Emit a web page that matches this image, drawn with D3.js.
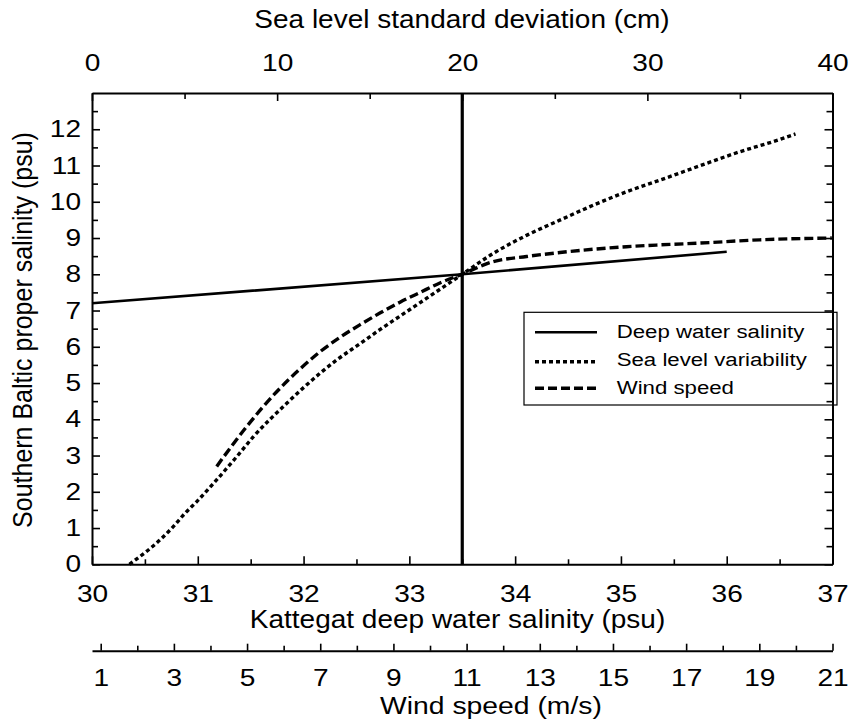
<!DOCTYPE html>
<html>
<head>
<meta charset="utf-8">
<script src="https://cdn.jsdelivr.net/npm/d3@7"></script>
<style>
  html, body { margin: 0; padding: 0; background: #fff; }
  svg { display: block; }
  text { font-family: "Liberation Sans", Arial, Helvetica, sans-serif; fill: #000; }
</style>
</head>
<body>
<svg id="chart" width="851" height="727"></svg>
<script>
// ---- data ----
const salinityTicks = [30, 31, 32, 33, 34, 35, 36, 37];
const salinityMinor = [30.5, 31.5, 32.5, 33.5, 34.5, 35.5, 36.5];
const cmTicks = [0, 10, 20, 30, 40];
const cmMinor = [5, 15, 25, 35];
const windTicks = [1, 3, 5, 7, 9, 11, 13, 15, 17, 19, 21];
const windMinor = [2, 4, 6, 8, 10, 12, 14, 16, 18, 20];
const yTicks = [0, 1, 2, 3, 4, 5, 6, 7, 8, 9, 10, 11, 12];
const yMinor = [0.5, 1.5, 2.5, 3.5, 4.5, 5.5, 6.5, 7.5, 8.5, 9.5, 10.5, 11.5, 12.5];

// Deep water salinity (x: Kattegat deep water salinity, psu)
const deepX = [30, 33.5, 36.0];
const deepY = [7.2, 8.0, 8.62];
// Sea level variability (x: sea level standard deviation, cm)
const seaX = [2.02, 3.77, 4.39, 5.03, 5.66, 6.56, 7.82, 8.72, 10.52, 12.32, 13.23, 14.49, 15.57, 16.65, 17.73, 18.81, 20.0, 21.69, 23.5, 25.3, 27.1, 28.9, 30.7, 33.2, 35.0, 36.8, 38.0];
const seaY = [0.0, 0.72, 1.04, 1.41, 1.73, 2.23, 2.97, 3.52, 4.44, 5.27, 5.64, 6.09, 6.48, 6.85, 7.22, 7.59, 8.0, 8.58, 9.08, 9.5, 9.91, 10.28, 10.6, 11.06, 11.38, 11.66, 11.87];
// Wind speed (x: wind speed, m/s)
const windX = [4.17, 4.99, 5.81, 6.45, 6.99, 7.54, 8.09, 8.63, 9.18, 9.73, 10.27, 10.87, 11.73, 12.64, 13.55, 14.46, 15.37, 16.28, 17.37, 19.01, 20.98];
const windY = [2.70, 3.80, 4.76, 5.39, 5.86, 6.26, 6.61, 6.93, 7.23, 7.50, 7.76, 8.0, 8.35, 8.49, 8.60, 8.69, 8.76, 8.81, 8.86, 8.95, 9.0];

const referenceSalinity = 33.5;
const seriesNames = ["Deep water salinity", "Sea level variability", "Wind speed"];

// ---- layout ----
const L = 92, R = 832.5, T = 93, B = 564.3, WIND_Y = 650.7;
const SX = 1.17;   // horizontal text stretch (tick labels, legend)
const TSX = 1.12;  // horizontal stretch for titles
const svg = d3.select("#chart");

const x = d3.scaleLinear().domain([30, 37]).range([L, R]);
const xCm = d3.scaleLinear().domain([0, 40]).range([L, R]);
const xWind = d3.scaleLinear().domain([0.7622, 21]).range([L, R]);
const y = d3.scaleLinear().domain([0, 13]).range([B, T]);

function styleAxis(g, domainWidth) {
  g.selectAll(".domain").attr("stroke", "#000").attr("stroke-width", domainWidth);
  g.selectAll(".tick line").attr("stroke", "#000").attr("stroke-width", 1.6);
  g.selectAll(".tick text").attr("font-size", 24).attr("fill", "#000")
    .attr("font-family", "Liberation Sans, Arial, sans-serif");
}

// bottom salinity axis
const gB = svg.append("g").attr("transform", `translate(0,${B})`)
  .call(d3.axisBottom(x).tickValues(salinityTicks).tickFormat(d3.format("d"))
    .tickSizeInner(-8).tickSizeOuter(0).tickPadding(21));
styleAxis(gB, 2);
gB.selectAll(".tick text").attr("transform", `scale(${SX},1)`);
svg.append("g").attr("transform", `translate(0,${B})`)
  .call(d3.axisBottom(x).tickValues(salinityMinor).tickFormat("").tickSizeInner(-5).tickSizeOuter(0))
  .call(g => { g.select(".domain").remove(); styleAxis(g, 2); });

// top cm axis
const gT = svg.append("g").attr("transform", `translate(0,${T})`)
  .call(d3.axisTop(xCm).tickValues(cmTicks).tickFormat(d3.format("d"))
    .tickSizeInner(-8).tickSizeOuter(0).tickPadding(22));
styleAxis(gT, 2);
gT.selectAll(".tick text").attr("transform", `scale(${SX},1)`);
svg.append("g").attr("transform", `translate(0,${T})`)
  .call(d3.axisTop(xCm).tickValues(cmMinor).tickFormat("").tickSizeInner(-6).tickSizeOuter(0))
  .call(g => { g.select(".domain").remove(); styleAxis(g, 2); });

// left y axis
const gL = svg.append("g").attr("transform", `translate(${L},0)`)
  .call(d3.axisLeft(y).tickValues(yTicks).tickFormat(d3.format("d"))
    .tickSizeInner(-8).tickSizeOuter(0).tickPadding(11 / SX));
styleAxis(gL, 2);
gL.selectAll(".tick text").attr("transform", `scale(${SX},1)`);
svg.append("g").attr("transform", `translate(${L},0)`)
  .call(d3.axisLeft(y).tickValues(yMinor).tickFormat("").tickSizeInner(-6).tickSizeOuter(0))
  .call(g => { g.select(".domain").remove(); styleAxis(g, 2); });

// right y axis
const gR = svg.append("g").attr("transform", `translate(${R},0)`)
  .call(d3.axisRight(y).tickValues(yTicks).tickFormat("").tickSizeInner(-8).tickSizeOuter(0));
styleAxis(gR, 2);
svg.append("g").attr("transform", `translate(${R},0)`)
  .call(d3.axisRight(y).tickValues(yMinor).tickFormat("").tickSizeInner(-6).tickSizeOuter(0))
  .call(g => { g.select(".domain").remove(); styleAxis(g, 2); });

// wind axis
const gW = svg.append("g").attr("transform", `translate(0,${WIND_Y})`)
  .call(d3.axisBottom(xWind).tickValues(windTicks).tickFormat(d3.format("d"))
    .tickSizeInner(-7).tickSizeOuter(0).tickPadding(18));
styleAxis(gW, 2);
gW.selectAll(".tick text").attr("transform", `scale(${SX},1)`);
svg.append("g").attr("transform", `translate(0,${WIND_Y})`)
  .call(d3.axisBottom(xWind).tickValues(windMinor).tickFormat("").tickSizeInner(-5).tickSizeOuter(0))
  .call(g => { g.select(".domain").remove(); styleAxis(g, 2); });

// axis titles
function title(txt, tx, ty, rot, size, sx) {
  const t = svg.append("text").attr("font-size", size).attr("text-anchor", "middle").text(txt);
  if (rot) t.attr("transform", `translate(${tx},${ty}) rotate(-90) scale(1,${sx})`);
  else t.attr("transform", `translate(${tx},${ty}) scale(${sx},1)`);
}
title("Sea level standard deviation (cm)", 462, 28, false, 25, TSX);
title("Kattegat deep water salinity (psu)", 457.5, 628, false, 25, TSX);
title("Wind speed (m/s)", 491, 714, false, 24, 1.18);
title("Southern Baltic proper salinity (psu)", 32, 330, true, 25, TSX);

// reference vertical line
svg.append("line")
  .attr("x1", x(referenceSalinity)).attr("x2", x(referenceSalinity))
  .attr("y1", y(13)).attr("y2", y(0))
  .attr("stroke", "#000").attr("stroke-width", 3.2);

// series
const styles = [
  { dash: null, width: 2.6 },
  { dash: "4,3", width: 3.4 },
  { dash: "9,4", width: 3.4 }
];
const deepLine = d3.line().x((d, i) => x(deepX[i])).y((d, i) => y(deepY[i]));
const seaLine = d3.line().curve(d3.curveMonotoneX).x((d, i) => xCm(seaX[i])).y((d, i) => y(seaY[i]));
const windLine = d3.line().curve(d3.curveMonotoneX).x((d, i) => xWind(windX[i])).y((d, i) => y(windY[i]));

svg.append("path").datum(deepX).attr("d", deepLine).attr("fill", "none")
  .attr("stroke", "#000").attr("stroke-width", styles[0].width);
svg.append("path").datum(seaX).attr("d", seaLine).attr("fill", "none")
  .attr("stroke", "#000").attr("stroke-width", styles[1].width).attr("stroke-dasharray", styles[1].dash);
svg.append("path").datum(windX).attr("d", windLine).attr("fill", "none")
  .attr("stroke", "#000").attr("stroke-width", styles[2].width).attr("stroke-dasharray", styles[2].dash);

// legend
const lg = svg.append("g");
lg.append("rect").attr("x", 524).attr("y", 312.3).attr("width", 313).attr("height", 92.7)
  .attr("fill", "none").attr("stroke", "#000").attr("stroke-width", 1.2);
const rowsLineY = [332.3, 361.7, 388.3];
const rowsTextY = [338.3, 366, 394.3];
seriesNames.forEach((name, i) => {
  lg.append("line").attr("x1", 535).attr("x2", 597).attr("y1", rowsLineY[i]).attr("y2", rowsLineY[i])
    .attr("stroke", "#000").attr("stroke-width", styles[i].width)
    .attr("stroke-dasharray", styles[i].dash);
  lg.append("text").attr("font-size", 19)
    .attr("transform", `translate(616.7,${rowsTextY[i]}) scale(${SX},1)`).text(name);
});
</script>
</body>
</html>
